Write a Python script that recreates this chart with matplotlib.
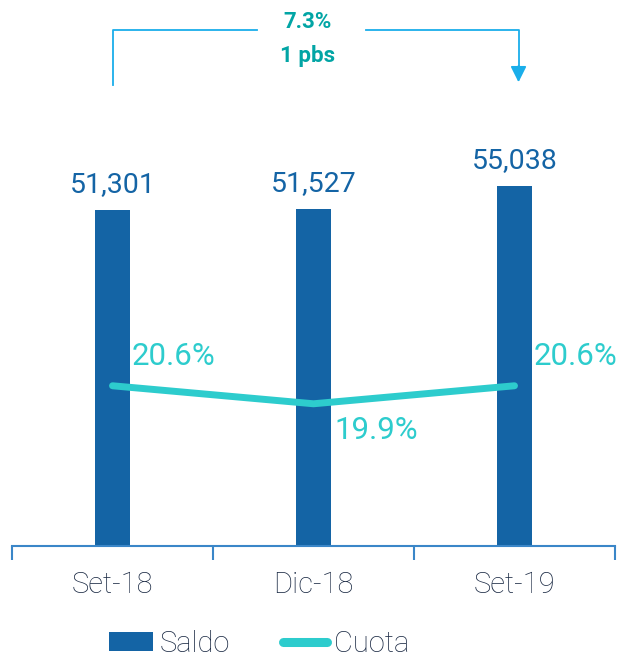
import matplotlib.pyplot as plt

# datos
categorias = ['Set-18', 'Dic-18', 'Set-19']
saldo = [51301, 51527, 55038]
cuota = [20.6, 19.9, 20.6]
etiquetas_saldo = ['51,301', '51,527', '55,038']
etiquetas_cuota = ['20.6%', '19.9%', '20.6%']
variacion_saldo = '7.3%'
variacion_cuota = '1 pbs'

azul = '#1464A5'
turquesa = '#2DCCCD'
azul_claro = '#1AAEEA'
verde = '#02A5A5'
gris = '#1B2A44'

plt.rcParams['font.family'] = ['Roboto', 'DejaVu Sans']

fig = plt.figure(figsize=(6.27, 6.6), dpi=100)
ax = fig.add_axes([12 / 627, 114 / 660, 603 / 627, 546 / 660])
ax2 = ax.twinx()

x = list(range(len(categorias)))

# barras
ax.bar(x, saldo, width=0.17, color=azul, zorder=2, label='Saldo')
ax.set_xlim(-0.5, 2.5)
ax.set_ylim(0, 83400)
for xi, v, t in zip(x, saldo, etiquetas_saldo):
    ax.annotate(t, (xi, v), xytext=(0, 13), textcoords='offset points',
                ha='center', va='baseline', fontsize=20.5, color=azul)

# linea de cuota
ax2.plot(x, cuota, color=turquesa, lw=5, solid_capstyle='round', zorder=3,
         label='Cuota')
ax2.set_ylim(14.37, 35.6)
# posicion de cada etiqueta respecto al punto (en puntos)
desp = [(14, 15, 'baseline'), (15, -9, 'top'), (14, 15, 'baseline')]
for xi, v, t, (dx, dy, va) in zip(x, cuota, etiquetas_cuota, desp):
    ax2.annotate(t, (xi, v), xytext=(dx, dy), textcoords='offset points',
                 ha='left', va=va, fontsize=22.5, color=turquesa)

# ejes
for a in (ax, ax2):
    for s in ['top', 'right', 'left']:
        a.spines[s].set_visible(False)
    a.set_yticks([])
ax.spines['bottom'].set_color('#3A86C8')
ax.spines['bottom'].set_linewidth(1.5)
ax2.spines['bottom'].set_visible(False)
ax.set_xticks([-0.5, 0.5, 1.5, 2.5])
ax.set_xticklabels([])
ax.tick_params(axis='x', length=10, width=1.5, color='#3A86C8',
               direction='out')
for xi, c in zip(x, categorias):
    ax.text(xi, -39 / 546, c, transform=ax.get_xaxis_transform(),
            ha='center', va='center', fontsize=21, color=gris,
            fontweight='light')

# flecha de variacion
trans = ax.get_xaxis_transform()
y_alto = 1 - 30 / 546
y_bajo = 1 - 85 / 546
ax.plot([0, 0, 0.72], [y_bajo, y_alto, y_alto], color=azul_claro, lw=1.3,
        transform=trans, clip_on=False)
ax.plot([1.26, 2.02, 2.02], [y_alto, y_alto, y_bajo + 0.03],
        color=azul_claro, lw=1.3, transform=trans, clip_on=False)
ax.annotate('', xy=(2.02, y_bajo), xytext=(2.02, y_bajo + 0.04),
            xycoords=trans, textcoords=trans,
            arrowprops=dict(arrowstyle='-|>', color=azul_claro, lw=1.3,
                            mutation_scale=24))
ax.text(0.97, 1 - 22 / 546, variacion_saldo, transform=trans, ha='center',
        va='center', fontsize=16, color=verde, fontweight='bold')
ax.text(0.97, 1 - 56 / 546, variacion_cuota, transform=trans, ha='center',
        va='center', fontsize=16, color=verde, fontweight='bold')

# leyenda
h1, l1 = ax.get_legend_handles_labels()
h2, l2 = ax2.get_legend_handles_labels()
leg = fig.legend(h1 + h2, l1 + l2, loc='center', ncol=2,
                 bbox_to_anchor=(259 / 627, 1 - 644 / 660), frameon=False,
                 fontsize=21, handlelength=1.5, handleheight=0.62,
                 columnspacing=1.8, handletextpad=0.25)
for t in leg.get_texts():
    t.set_color(gris)
    t.set_fontweight('light')
for ln in leg.get_lines():
    ln.set_linewidth(6.5)

fig.savefig('out.png', dpi=100)
